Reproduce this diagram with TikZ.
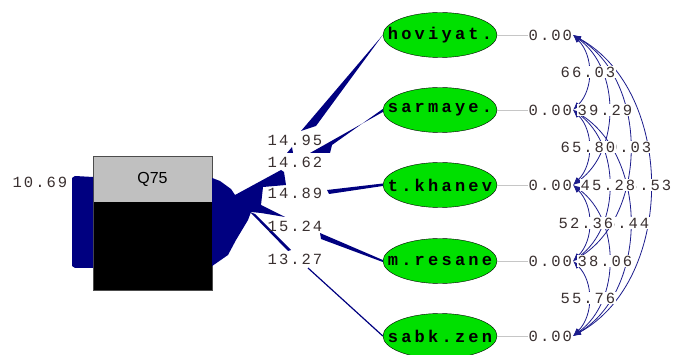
\documentclass[tikz,border=0pt]{standalone}
\usepackage{fontspec}
\setmainfont{Liberation Sans}
\newfontfamily\numfont[LetterSpace=13]{Liberation Mono}
\newfontfamily\latfont[LetterSpace=19]{Liberation Mono}
\usetikzlibrary{shapes.geometric,arrows.meta,calc}
\definecolor{navyc}{HTML}{000080}
\definecolor{curvec}{HTML}{1C1C8C}
\definecolor{lgreen}{HTML}{00E000}
\definecolor{boxgrey}{HTML}{C0C0C0}
\definecolor{numcol}{HTML}{3A3030}
\tikzset{
  latshape/.style={ellipse, draw=black, fill=lgreen, minimum width=114pt, minimum height=45pt, inner sep=0pt},
  lattext/.style={font=\latfont\bfseries\fontsize{17}{17}\selectfont, inner sep=0pt},
  numlab/.style={font=\numfont\fontsize{15.5}{15.5}\selectfont, text=numcol, inner sep=0.5pt, anchor=west},
  covlab/.style={numlab, fill=white},
  wedge/.style={fill=navyc},
  errline/.style={draw=gray!45, line width=0.8pt},
  cov/.style={draw=curvec, line width=0.8pt, {Latex[length=8pt,width=6pt]}-{Latex[length=8pt,width=6pt]}}
}
\begin{document}
\begin{tikzpicture}[x=1pt,y=-1pt]
\useasboundingbox (0,0) rectangle (677,355);
% box
\node[draw=black!70, fill=black, minimum width=119pt, minimum height=134pt, inner sep=0pt] (box) at (152.5,223) {};
\fill[boxgrey] (box.north west) rectangle ([yshift=-46pt]box.north east);
\draw[black!70] (box.north west) rectangle (box.south east);
\node[font=\fontsize{16}{16}\selectfont, inner sep=0pt] (q75) at (152.5,179) {Q75};
% error band
\fill[navyc] (72,178) -- (75,176) -- (93,177) -- (93,268) -- (75,268) -- (72,266) -- cycle;
\node[numlab] (err) at (12,182) {10.69};
% latent ellipses
\node[latshape] (hov) at (440,35) {};
\node[latshape] (sar) at (440,110) {};
\node[latshape] (tkh) at (440,185) {};
\node[latshape] (mre) at (440,261) {};
\node[latshape] (sab) at (440,336) {};
\node[lattext] at (hov) {hoviyat.};
\node[lattext] at (sar) {sarmaye.};
\node[lattext] at (tkh) {t.khanev};
\node[lattext] at (mre) {m.resane};
\node[lattext] at (sab) {sabk.zen};
% zero labels
\node[numlab] (z1) at (528,35) {0.00};
\node[numlab] (z2) at (528,110) {0.00};
\node[numlab] (z3) at (528,185) {0.00};
\node[numlab] (z4) at (528,261) {0.00};
\node[numlab] (z5) at (528,336) {0.00};
\draw[errline] (hov.east) -- (z1.west);
\draw[errline] (sar.east) -- (z2.west);
\draw[errline] (tkh.east) -- (z3.west);
\draw[errline] (mre.east) -- (z4.west);
\draw[errline] (sab.east) -- (z5.west);
% wedges (loadings)
\fill[wedge] (hov.west) -- (301,131) -- (316,126) -- cycle;
\fill[wedge] (287,153) -- (292,147) -- (293,153) -- cycle;
\fill[wedge] ([yshift=1pt]sar.west) -- (332,145) -- (330,153) -- (310,153) -- ([yshift=-2pt]sar.west) -- cycle;
\fill[wedge] ([yshift=1.5pt]tkh.west) -- (327,190) -- (329,194) -- ([yshift=-1pt]tkh.west) -- cycle;
\fill[wedge] ([yshift=1pt]mre.west) -- (320,233) -- (321,239) -- ([yshift=-1pt]mre.west) -- cycle;
\draw[navyc, line width=1.2pt] (308,268) -- (sab.west);
\fill[wedge] (box.east |- 0,178) -- (220,181) -- (231,189) -- (235,195) -- (281,170) -- (284,172) -- (286,185)
  -- (263,187) -- (261,205) -- (285,217) -- (261,213) -- (251,212) -- (248,220) -- (236,240) -- (228,255)
  -- (box.east |- 0,266) -- cycle;
\fill[wedge] (250,212) -- (255,214) -- (291,250) -- (288,251) -- cycle;
\node[numlab] (l1) at (267,140) {14.95};
\node[numlab] (l2) at (267,162) {14.62};
\node[numlab] (l3) at (267,193) {14.89};
\node[numlab] (l4) at (267,226) {15.24};
\node[numlab] (l5) at (267,259) {13.27};
% covariance curves
\coordinate (e1) at (573,35);
\coordinate (e2) at (573,110);
\coordinate (e3) at (573,185);
\coordinate (e4) at (573,261);
\coordinate (e5) at (573,336);
\draw[cov] (e1) to[bend left=45] (e2);
\draw[cov] (e2) to[bend left=45] (e3);
\draw[cov] (e3) to[bend left=45] (e4);
\draw[cov] (e4) to[bend left=45] (e5);
\draw[cov] (e1) to[bend left=54] (e3);
\draw[cov] (e2) to[bend left=54] (e4);
\draw[cov] (e3) to[bend left=54] (e5);
\draw[cov] (e1) to[bend left=59] (e4);
\draw[cov] (e2) to[bend left=59] (e5);
\draw[cov] (e1) to[bend left=61] (e5);
\node[covlab] (c12) at (560,72) {66.03};
\node[covlab] (c13) at (577,110) {39.29};
\node[covlab] (c14) at (596,147) {80.03};
\node[covlab] (c23) at (560,147) {65.80};
\node[covlab] (c15) at (616,185) {28.53};
\node[covlab] (c24) at (580,185) {45.28};
\node[covlab] (c25) at (594,223) {36.44};
\node[covlab] (c34) at (558,223) {52.36};
\node[covlab] (c35) at (577,261) {38.06};
\node[covlab] (c45) at (560,298) {55.76};
\end{tikzpicture}
\end{document}
